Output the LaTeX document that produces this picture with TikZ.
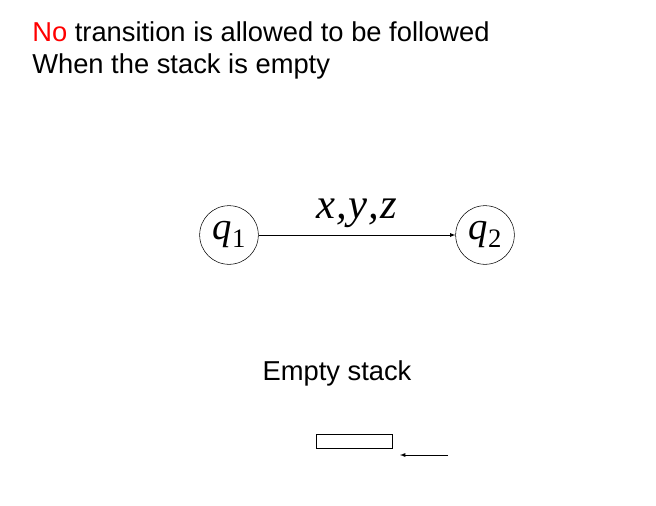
\documentclass[tikz,border=0pt]{standalone}
\usepackage{fontspec}
\setmainfont{Liberation Sans}
\newfontfamily\tms{Liberation Serif}
\newcommand{\sbs}[1]{\raisebox{-0.45ex}{\upshape\fontsize{20}{22}\selectfont #1}}
\begin{document}
\begin{tikzpicture}[x=0.75pt,y=-0.75pt,
  st/.style={circle,draw,minimum size=44pt,inner sep=0pt,font=\tms\itshape\fontsize{29}{30}\selectfont},
  txt/.style={font=\fontsize{20.5}{24}\selectfont,inner sep=0pt}]
\useasboundingbox (0,0) rectangle (656,506);
\node[txt,anchor=west] (l1) at (32,32) {\textcolor{red}{No} transition is allowed to be followed};
\node[txt,anchor=west] (l2) at (32,66) {When the stack is empty};
\node[st] (q1) at (229,235) {q\sbs{1}};
\node[st] (q2) at (485,235) {q\sbs{2}};
\draw[-latex] (q1) -- node[above=2pt,font=\tms\itshape\fontsize{32}{34}\selectfont]{x\kern1pt,\kern1pt y\kern1pt,\kern1pt z} (q2);
\node[txt] (es) at (337,373) {Empty stack};
\node[draw,minimum width=57pt,minimum height=10.5pt,inner sep=0pt] (stk) at (354,441) {};
\coordinate (a1) at (448,455);
\coordinate (a2) at (400,455);
\draw[-latex] (a1) -- (a2);
\end{tikzpicture}
\end{document}
